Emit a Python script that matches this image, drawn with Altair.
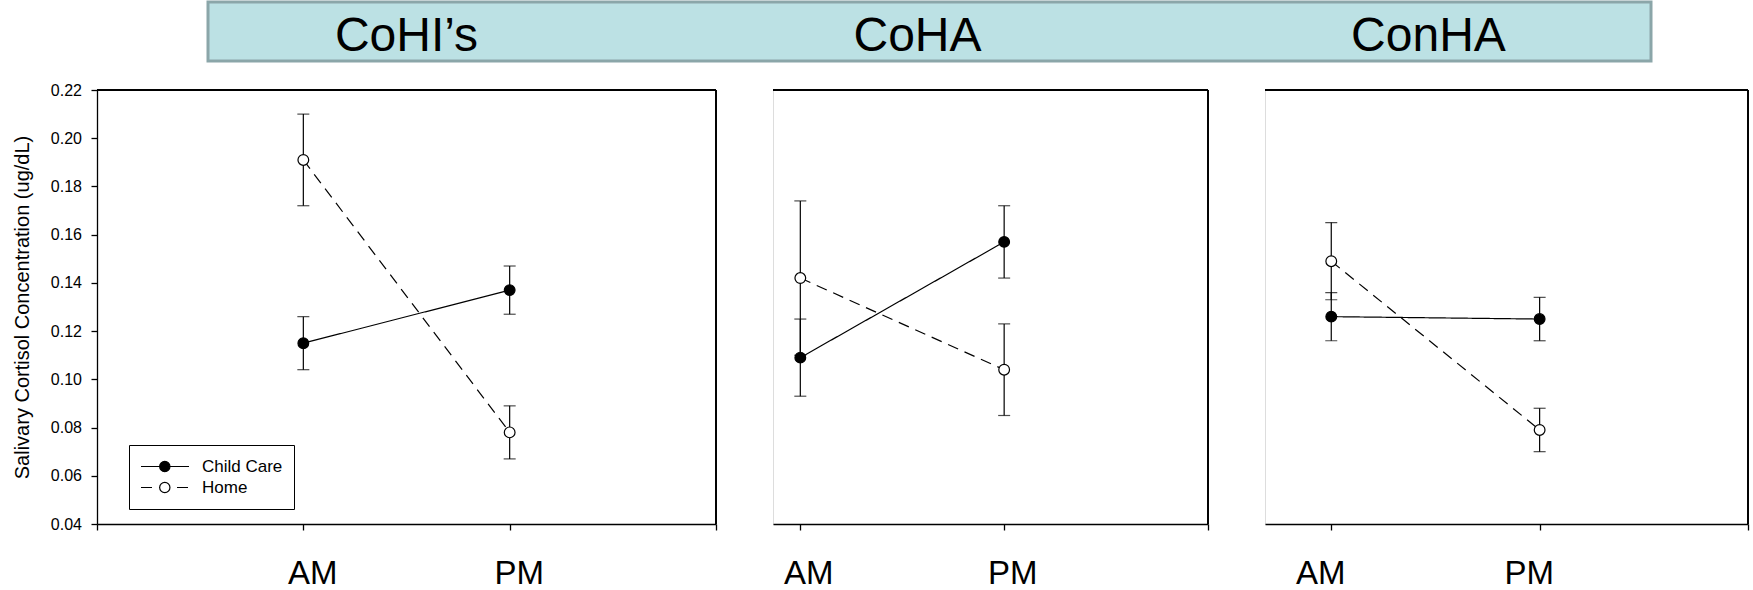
import altair as alt
import pandas as pd

# ---------------- data ----------------
panels = ["CoHI\u2019s", "CoHA", "ConHA"]
groups = ["Child Care", "Home"]
times = ["AM", "PM"]
time_pos = [1, 2]

# mean salivary cortisol per panel, [AM, PM]
child_care_mean = [[0.115, 0.137], [0.109, 0.157], [0.126, 0.125]]
child_care_err = [[0.011, 0.010], [0.016, 0.015], [0.010, 0.009]]
home_mean = [[0.191, 0.078], [0.142, 0.104], [0.149, 0.079]]
home_err = [[0.019, 0.011], [0.032, 0.019], [0.016, 0.009]]

y_ticks = [0.04, 0.06, 0.08, 0.10, 0.12, 0.14, 0.16, 0.18, 0.20, 0.22]
x_ticks = [0, 1, 2, 3]

rows = []
for pi, p in enumerate(panels):
    for g, means, errs in ((groups[0], child_care_mean, child_care_err),
                           (groups[1], home_mean, home_err)):
        for ti, t in enumerate(times):
            m = means[pi][ti]
            e = errs[pi][ti]
            rows.append({"panel": p, "group": g, "time": t, "t": time_pos[ti],
                         "mean": m, "lo": m - e, "hi": m + e})
df = pd.DataFrame(rows)

# ---------------- styling ----------------
FONT = "Liberation Sans"
LW = 1.3
x_domains = [[0, 3], [0.866, 3], [0.682, 3]]
panel_widths = [619, 435, 483]
label_offsets = [9, 8, -11]
PH = 434

label_expr = "datum.value == %d ? '%s' : datum.value == %d ? '%s' : ''" % (
    time_pos[0], times[0], time_pos[1], times[1])

# legend A: line glyphs + labels + box
legend_lines = alt.Legend(
    title=None, orient="none", legendX=32, legendY=355, direction="vertical",
    symbolType="stroke", symbolSize=2304, clipHeight=21, rowPadding=0, labelOffset=12,
    labelFont=FONT, labelFontSize=17, labelColor="black",
    padding=11, strokeColor="black", cornerRadius=0,
    symbolStrokeColor="black", symbolStrokeWidth=1.2,
    zindex=1,
)
# legend B: circle glyphs drawn over the line glyphs
legend_pts = alt.Legend(
    title=None, orient="none", legendX=61.8, legendY=366, direction="vertical",
    padding=0, symbolType="circle", symbolSize=106, clipHeight=21, rowPadding=0,
    symbolStrokeColor="black", symbolStrokeWidth=1.2,
    labelExpr="''", zindex=2,
)


def make_panel(i):
    d = df[df["panel"] == panels[i]]
    base = alt.Chart(d)
    xsc = alt.Scale(domain=x_domains[i], nice=False, zero=False)
    ysc = alt.Scale(domain=[y_ticks[0], y_ticks[-1]], nice=False, zero=False)
    xaxis = alt.Axis(values=[v for v in x_ticks if v >= x_domains[i][0]],
                     labelExpr=label_expr, title=None, grid=False,
                     tickSize=6, tickWidth=LW, tickColor="black",
                     domainColor="black", domainWidth=LW,
                     labelFont=FONT, labelFontSize=33, labelColor="black",
                     labelBaseline="alphabetic",
                     labelPadding=53, labelOffset=label_offsets[i],
                     labelFlush=False, labelOverlap=False)
    if i == 0:
        yaxis = alt.Axis(values=y_ticks, format=".2f", grid=False,
                         title="Salivary Cortisol Concentration (ug/dL)",
                         titleFont=FONT, titleFontSize=20, titleFontWeight="normal",
                         titleColor="black", titlePadding=18,
                         tickSize=6, tickWidth=LW, tickColor="black",
                         domainColor="black", domainWidth=LW,
                         labelFont=FONT, labelFontSize=16, labelColor="black",
                         labelPadding=9.5)
    else:
        yaxis = None

    X = alt.X("t:Q", scale=xsc, axis=xaxis)

    def Y(f):
        return alt.Y(f, type="quantitative", scale=ysc, axis=yaxis)

    err = base.mark_rule(color="black", strokeWidth=1.2).encode(
        x=X, y=Y("lo"), y2="hi:Q")
    cap_lo = base.mark_tick(orient="horizontal", size=12, thickness=1.2,
                            color="black").encode(x=X, y=Y("lo"))
    cap_hi = base.mark_tick(orient="horizontal", size=12, thickness=1.2,
                            color="black").encode(x=X, y=Y("hi"))
    line = base.mark_line(color="black", strokeWidth=1.2).encode(
        x=X, y=Y("mean"),
        strokeDash=alt.StrokeDash("group:N",
                                  scale=alt.Scale(domain=groups, range=[[1, 0], [11, 7]]),
                                  legend=legend_lines if i == 0 else None))
    pts = base.mark_point(filled=True, shape="circle", size=115, stroke="black",
                          strokeWidth=1.2, opacity=1).encode(
        x=X, y=Y("mean"),
        fill=alt.Fill("group:N", scale=alt.Scale(range=["black", "white"]),
                      legend=legend_pts if i == 0 else None))
    top_rule = base.mark_rule(color="black", strokeWidth=LW).encode(
        y=alt.Y(datum=y_ticks[-1], type="quantitative", scale=ysc, axis=yaxis))
    right_rule = base.mark_rule(color="black", strokeWidth=LW).encode(
        x=alt.X(datum=x_ticks[-1], type="quantitative", scale=xsc, axis=xaxis))
    return alt.layer(err, cap_lo, cap_hi, line, pts, top_rule, right_rule).properties(
        width=panel_widths[i], height=PH)


banner_df = pd.DataFrame({"panel": panels, "row": ["a"] * 3})
banner = alt.Chart(banner_df).mark_text(
    font=FONT, fontSize=48, color="black", baseline="middle", dy=5, dx=-12
).encode(
    x=alt.X("panel:N", sort=panels, scale=alt.Scale(type="point", padding=0.412), axis=None),
    y=alt.Y("row:N", axis=None),
    text="panel:N",
).properties(width=1443, height=59,
             view=alt.ViewBackground(fill="#bce1e4", stroke="#8ba6a9", strokeWidth=3))

# empty spacer that shifts the banner to the right of the first panel's origin
spacer = alt.Chart(banner_df.head(1)).mark_point(opacity=0, size=0).encode(
    x=alt.value(0), y=alt.value(0)
).properties(width=99, height=59, view=alt.ViewBackground(stroke=None, fill=None))

top = alt.hconcat(spacer, banner, spacing=10)

row = alt.hconcat(*[make_panel(i) for i in range(3)], spacing=57, bounds="flush"
                  ).resolve_scale(fill="independent", strokeDash="independent")

chart = alt.vconcat(top, row, spacing=18).resolve_scale(
    fill="independent", strokeDash="independent"
).properties(
    padding={"left": 11, "top": 0, "right": 0, "bottom": 0}
).configure_view(stroke=None).configure(background="white")

chart.save("out.html", embed_options={"renderer": "svg", "actions": False})
